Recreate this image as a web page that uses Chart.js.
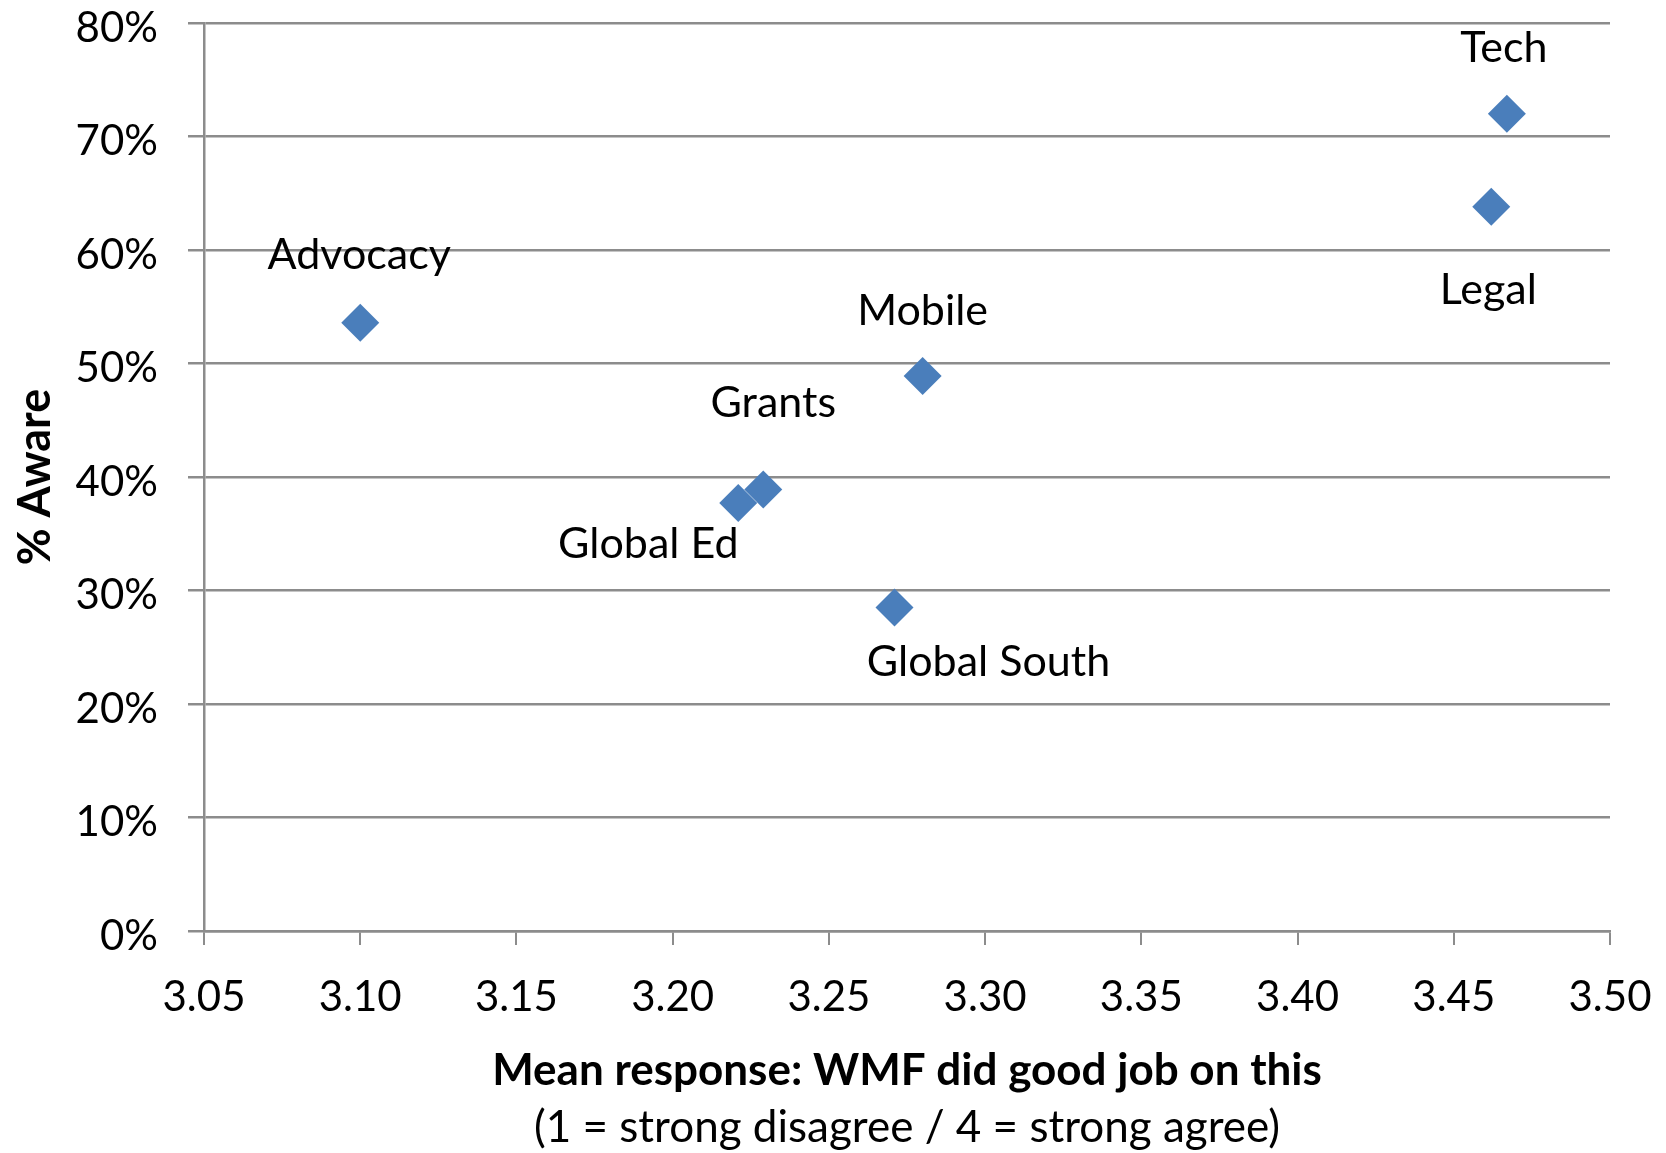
<!DOCTYPE html>
<html>
<head>
<meta charset="utf-8">
<script src="https://cdn.jsdelivr.net/npm/chart.js@4"></script>
<style>
  html, body { margin: 0; padding: 0; background: #fff; }
  #wrap { width: 1666px; height: 1153px; }
</style>
</head>
<body>
<div id="wrap"><canvas id="chart"></canvas></div>
<script>
// data
const categories = ['Tech', 'Legal', 'Advocacy', 'Mobile', 'Grants', 'Global Ed', 'Global South'];
const meanResponse = [3.467, 3.462, 3.100, 3.280, 3.229, 3.221, 3.271];
const pctAware = [72.0, 63.8, 53.6, 48.9, 38.9, 37.7, 28.5];

const xTitle = 'Mean response: WMF did good job on this';
const xSubtitle = '(1 = strong disagree / 4 = strong agree)';
const yTitle = '% Aware';

const FONT = 'Lato, "Open Sans", sans-serif';
const GRID = '#8c8c8c';
const MARKER = '#4a7ebb';

// where each data label sits relative to its point (px)
const labelOffsets = {
  'Tech': [-3, -66],
  'Legal': [-3, 83],
  'Advocacy': [-1, -68],
  'Mobile': [0, -65],
  'Grants': [10, -86],
  'Global Ed': [-90, 41],
  'Global South': [94, 55]
};

const pointLabels = {
  id: 'pointLabels',
  afterDatasetsDraw(chart) {
    const ctx = chart.ctx;
    const meta = chart.getDatasetMeta(0);
    ctx.save();
    ctx.font = '43px ' + FONT;
    ctx.fillStyle = '#000';
    ctx.textAlign = 'center';
    ctx.textBaseline = 'middle';
    meta.data.forEach((pt, i) => {
      const off = labelOffsets[categories[i]] || [0, -60];
      ctx.fillText(categories[i], pt.x + off[0], pt.y + off[1]);
    });
    ctx.restore();
  }
};

// two-line x axis title, first line bold
const xAxisTitle = {
  id: 'xAxisTitle',
  afterDraw(chart) {
    const ctx = chart.ctx;
    const area = chart.chartArea;
    const cx = (area.left + area.right) / 2;
    ctx.save();
    ctx.fillStyle = '#000';
    ctx.textAlign = 'center';
    ctx.textBaseline = 'middle';
    ctx.font = 'bold 44px ' + FONT;
    ctx.fillText(xTitle, cx, 1071);
    ctx.font = '44px ' + FONT;
    ctx.fillText(xSubtitle, cx, 1128);
    ctx.restore();
  }
};

// keep the tick label overflow from pushing the plot area around
function noOverflow(s) {
  s.paddingTop = 0;
  s.paddingBottom = 0;
  s.paddingLeft = 0;
  s.paddingRight = 0;
}

const points = meanResponse.map((x, i) => ({ x: x, y: pctAware[i] }));

new Chart(document.getElementById('chart'), {
  type: 'scatter',
  data: {
    datasets: [{
      label: '% Aware',
      data: points,
      pointStyle: 'rectRot',
      pointRadius: 19,
      pointHoverRadius: 19,
      backgroundColor: MARKER,
      borderColor: MARKER,
      borderWidth: 0
    }]
  },
  options: {
    responsive: true,
    maintainAspectRatio: false,
    animation: false,
    devicePixelRatio: 1,
    layout: { padding: { top: 23, right: 56, left: 0, bottom: 0 } },
    plugins: {
      legend: { display: false },
      tooltip: { enabled: false }
    },
    scales: {
      x: {
        type: 'linear',
        min: 3.05,
        max: 3.50,
        afterFit: s => { s.height = 222; noOverflow(s); },
        afterBuildTicks: s => {
          s.ticks = [];
          for (let k = 0; k <= 9; k++) s.ticks.push({ value: +(3.05 + k * 0.05).toFixed(2) });
        },
        ticks: {
          callback: v => Number(v).toFixed(2),
          color: '#000',
          font: { family: FONT, size: 42 },
          padding: 27,
          maxRotation: 0
        },
        grid: {
          drawOnChartArea: false,
          drawTicks: true,
          tickLength: 14,
          color: GRID,
          lineWidth: 2
        },
        border: { color: GRID, width: 2.5 }
      },
      y: {
        min: 0,
        max: 80,
        afterFit: s => { s.width = 204; noOverflow(s); },
        ticks: {
          stepSize: 10,
          callback: v => v + '%',
          color: '#000',
          font: { family: FONT, size: 42 },
          padding: 30,
          labelOffset: 5
        },
        grid: {
          color: GRID,
          lineWidth: 2.5,
          tickLength: 16
        },
        border: { color: GRID, width: 2.5 },
        title: {
          display: true,
          text: yTitle,
          color: '#000',
          font: { family: FONT, size: 45, weight: 'bold' },
          padding: { top: 8, bottom: 0 }
        }
      }
    }
  },
  plugins: [pointLabels, xAxisTitle]
});
</script>
</body>
</html>
